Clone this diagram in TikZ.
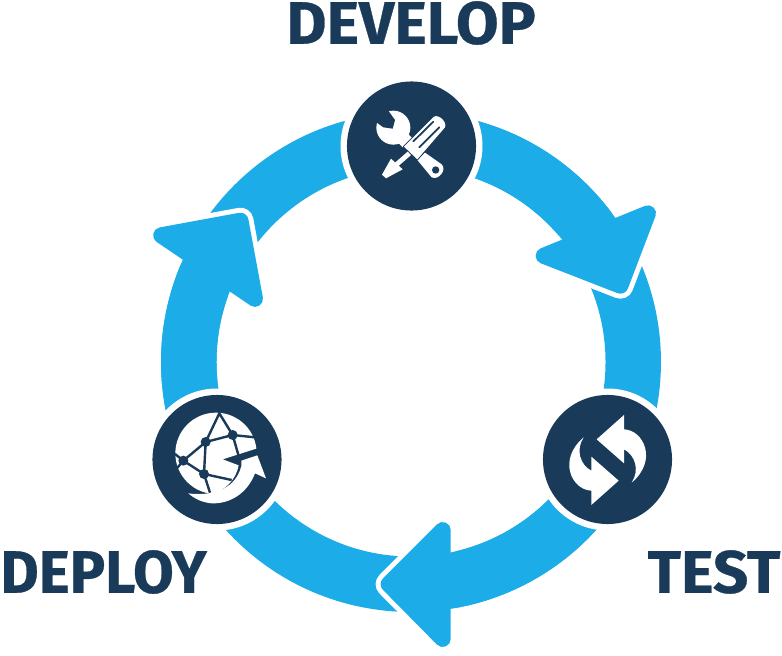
\documentclass[tikz,border=0pt]{standalone}
\usepackage{fontspec}
\setmainfont{Fira Sans}
\newfontfamily\labfont[FakeStretch=1.03,FakeBold=0.5]{Fira Sans}
\definecolor{ringblue}{HTML}{1CADE8}
\definecolor{navy}{HTML}{193A58}
\tikzset{
  ringarc/.style={draw=ringblue,line width=41.6pt},
  headhalo/.style={draw=white,fill=white,line width=19.5pt,line join=round},
  headfill/.style={draw=ringblue,fill=ringblue,line width=12pt,line join=round},
  halo/.style={circle,fill=white,minimum size=106.5pt,inner sep=0pt},
  badge/.style={circle,fill=navy,minimum size=96.8pt,inner sep=0pt},
  iconframe/.style={x=0.25pt,y=-0.25pt},
  lab/.style={text=navy,font=\labfont\bfseries\fontsize{45pt}{45pt}\selectfont,inner sep=0pt},
  netline/.style={draw=navy,line width=1.8pt},
  netdot/.style={fill=navy}
}
\begin{document}
\begin{tikzpicture}[x=0.75pt,y=-0.75pt]
\useasboundingbox (0,0) rectangle (782,656);
% ring
\begin{scope}[shift={(411,362)},x=0.75pt,y=0.75pt]
  \draw[ringarc] (0,0) circle[radius=222.25];
\end{scope}
% head 1
\draw[headhalo] (543.6,255.8) -- (648,213.3) -- (620.4,285.7) -- cycle;
\begin{scope}[shift={(411,362)},x=0.75pt,y=0.75pt]
  \draw[ringarc] (33:222.25) arc[start angle=33,end angle=92,radius=222.25];
\end{scope}
\draw[headfill] (543.6,255.8) -- (648,213.3) -- (620.4,285.7) -- cycle;
% head 2
\draw[headhalo] (442.7,530) -- (442.7,639) -- (388.6,584.2) -- cycle;
\begin{scope}[shift={(411,362)},x=0.75pt,y=0.75pt]
  \draw[ringarc] (-83:222.25) arc[start angle=-83,end angle=-20,radius=222.25];
\end{scope}
\draw[headfill] (442.7,530) -- (442.7,639) -- (388.6,584.2) -- cycle;
% head 3
\draw[headhalo] (161.1,235.3) -- (240.5,220.7) -- (255,298.9) -- cycle;
\begin{scope}[shift={(411,362)},x=0.75pt,y=0.75pt]
  \draw[ringarc] (152:222.25) arc[start angle=152,end angle=212,radius=222.25];
\end{scope}
\draw[headfill] (161.1,235.3) -- (240.5,220.7) -- (255,298.9) -- cycle;
% badges
\node[halo] (h1) at (411.5,146) {};
\node[halo] (h2) at (607.5,459.5) {};
\node[halo] (h3) at (217,459.5) {};
\node[badge] (b1) at (411.5,146) {};
\node[badge] (b2) at (607.5,459.5) {};
\node[badge] (b3) at (217,459.5) {};
% tools icon
\begin{scope}[shift={(330,70)},iconframe]
  % wrench
  \fill[white] (190,173) circle[radius=51];
  \draw[white,line width=10pt] (190,175) -- (232,218);
  \fill[navy] (172,118) -- (195,150) -- (188,176) -- (160,172) -- (132,152) -- cycle;
  \fill[white] (262,270) -- (285,248) -- (335,283) .. controls (352,300) and (325,332) .. (305,322) -- cycle;
  \fill[navy] (317,300) circle[radius=11];
  % screwdriver
  \draw[navy,line width=1.4pt,line join=round] (222,230) -- (312,140) .. controls (325,132) and (352,155) .. (345,172) -- (262,268) -- cycle;
  \fill[white] (222,230) -- (312,140) .. controls (325,132) and (352,155) .. (345,172) -- (262,268) -- cycle;
  \draw[navy,line width=1.3pt,line cap=round] (250,214) -- (310,155);
  \draw[navy,line width=1.3pt,line cap=round] (268,232) -- (328,172);
  \draw[white,line width=3.6pt] (238,250) -- (198,285);
  \fill[white] (183,266) -- (218,298) -- (168,325) -- (156,314) -- cycle;
\end{scope}
% refresh icon
\begin{scope}[shift={(530,380)},iconframe]
  \fill[white] (200,178) -- (282,105) -- (282,148) .. controls (340,150) and (385,240) .. (305,308) .. controls (330,270) and (315,225) .. (282,208) -- (282,250) -- cycle;
  \fill[white] (266,302) -- (184,375) -- (184,332) .. controls (126,330) and (81,240) .. (161,172) .. controls (136,210) and (151,255) .. (184,272) -- (184,230) -- cycle;
\end{scope}
% globe icon
\begin{scope}[shift={(140,380)},iconframe]
  \begin{scope}
    \clip (248,238) -- (352,205) -- (352,90) -- (90,90) -- (90,345) -- (210,345) .. controls (255,332) and (288,300) .. (296,256) -- cycle;
    \fill[white] (228,220) circle[radius=122];
  \end{scope}
  \fill[white] (145,340) .. controls (205,348) and (285,335) .. (304,258) -- (304,242) -- (352,226) -- (378,295) -- (345,280) .. controls (322,340) and (270,372) .. (215,370) .. controls (190,368) and (165,358) .. (145,340) -- cycle;
  \draw[netline] (130,242) -- (197,186) -- (278,165);
  \draw[netline] (130,242) -- (192,282) -- (197,186);
  \draw[netline] (197,186) -- (238,100) -- (278,165);
  \draw[netline] (278,165) -- (345,172);
  \draw[netline] (278,165) -- (296,228);
  \draw[netline] (192,282) -- (275,300);
  \draw[netline] (192,282) -- (210,338);
  \draw[netline] (130,242) -- (105,222);
  \draw[netline] (130,242) -- (108,268);
  \fill[netdot] (130,242) circle[radius=15];
  \fill[netdot] (197,186) circle[radius=15];
  \fill[netdot] (278,165) circle[radius=15];
  \fill[netdot] (192,282) circle[radius=15];
\end{scope}
% labels
\node[lab] (develop) at (411,23) {DEVELOP};
\node[lab] (test) at (714,572) {TEST};
\node[lab] (deploy) at (103.5,572) {\scalebox{0.955}[1]{DEPLOY}};
\end{tikzpicture}
\end{document}
